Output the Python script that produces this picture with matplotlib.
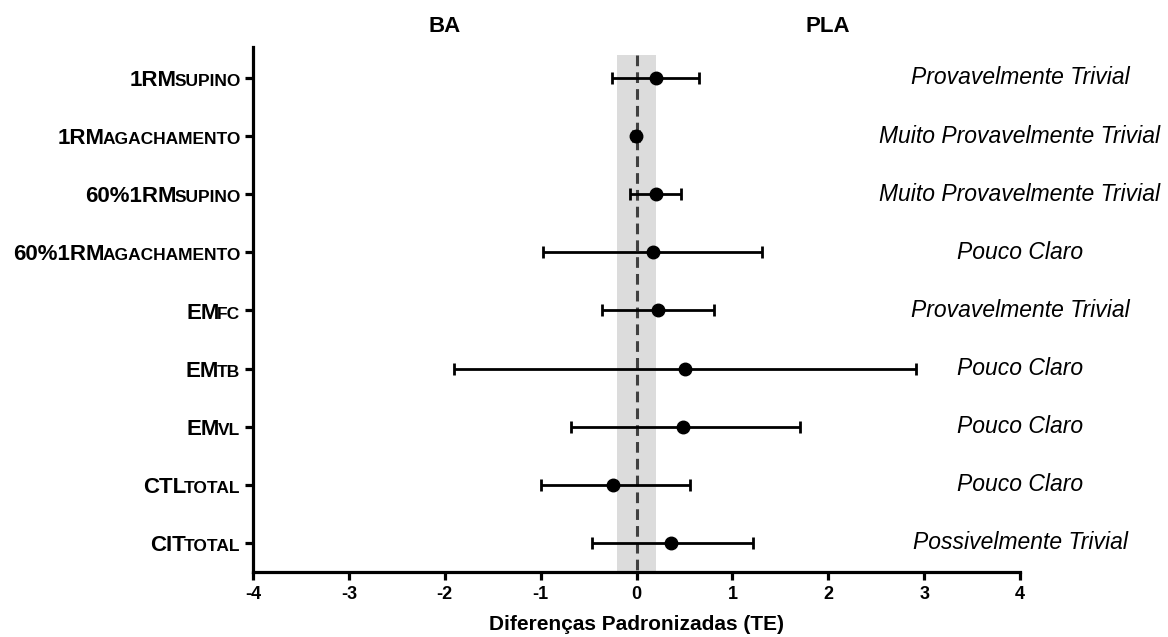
import matplotlib
matplotlib.use("Agg")
import matplotlib.pyplot as plt

plt.rcParams['font.family'] = ['Liberation Sans', 'DejaVu Sans']

label_main = ["1RM", "1RM", "60%1RM", "60%1RM", "EM", "EM", "EM", "CTL", "CIT"]
label_sub = ["SUPINO", "AGACHAMENTO", "SUPINO", "AGACHAMENTO", "FC", "TB", "VL", "TOTAL", "TOTAL"]
effect = [0.20, -0.01, 0.20, 0.17, 0.22, 0.51, 0.49, -0.24, 0.36]
ci_low = [-0.26, -0.04, -0.07, -0.97, -0.36, -1.90, -0.68, -1.00, -0.46]
ci_high = [0.65, 0.03, 0.46, 1.31, 0.81, 2.92, 1.71, 0.56, 1.21]
inference = ["Provavelmente Trivial", "Muito Provavelmente Trivial",
             "Muito Provavelmente Trivial", "Pouco Claro", "Provavelmente Trivial",
             "Pouco Claro", "Pouco Claro", "Pouco Claro", "Possivelmente Trivial"]
x_ticks = [-4, -3, -2, -1, 0, 1, 2, 3, 4]
trivial_band = (-0.2, 0.2)

fig = plt.figure(figsize=(11.68, 6.37), dpi=100)
ax = fig.add_axes([0.2166, 0.102, 0.8733 - 0.2166, 0.926 - 0.102])

rows = list(range(len(effect)))
ax.set_xlim(-4, 4)
ax.set_ylim(8.5, -0.53)

# trivial band and zero line
ax.fill_between(trivial_band, [-0.4, -0.4], [8.5, 8.5], color='#dcdcdc', lw=0, zorder=0)
ax.plot([0, 0], [-0.4, 8.5], color='#404040', lw=2.2, ls=(0, (3.5, 2)), zorder=1)

xerr = [[e - l for e, l in zip(effect, ci_low)], [h - e for e, h in zip(effect, ci_high)]]
ax.errorbar(effect, rows, xerr=xerr, fmt='o', color='black', ms=9,
            elinewidth=2.0, capsize=4, capthick=2.0, zorder=3)

ax.spines['top'].set_visible(False)
ax.spines['right'].set_visible(False)
ax.spines['left'].set_linewidth(2.3)
ax.spines['bottom'].set_linewidth(2.3)

ax.set_xticks(x_ticks)
ax.set_xticklabels([str(t) for t in x_ticks], fontsize=13, fontweight='bold')
ax.tick_params(axis='x', length=6, width=2.3, pad=4)
ax.set_yticks(rows)
ax.set_yticklabels([])
ax.tick_params(axis='y', length=6, width=2.3)

ax.set_xlabel("Diferenças Padronizadas (TE)", fontsize=15, fontweight='bold', labelpad=9)

# y labels with small-caps subscripts
ytr = ax.get_yaxis_transform()
for r, m, s in zip(rows, label_main, label_sub):
    st = ax.annotate(s, xy=(0, r), xycoords=ytr, xytext=(-9, -5.8), textcoords='offset points',
                     ha='right', va='baseline', fontsize=12.5, fontweight='bold', annotation_clip=False)
    ax.annotate(m, xy=(0, r), xycoords=(st, ytr), xytext=(1.5, -5.8), textcoords='offset points',
                ha='right', va='baseline', fontsize=16, fontweight='bold', annotation_clip=False)

# right-side inference labels
for r, t in zip(rows, inference):
    ax.text(4, r, t, ha='center', va='center', fontsize=16.5, fontstyle='italic', clip_on=False)

# headers
ax.text(-2, -0.88, "BA", ha='center', va='center', fontsize=16, fontweight='bold', clip_on=False)
ax.text(2, -0.88, "PLA", ha='center', va='center', fontsize=16, fontweight='bold', clip_on=False)

fig.savefig("out.png", dpi=100)
